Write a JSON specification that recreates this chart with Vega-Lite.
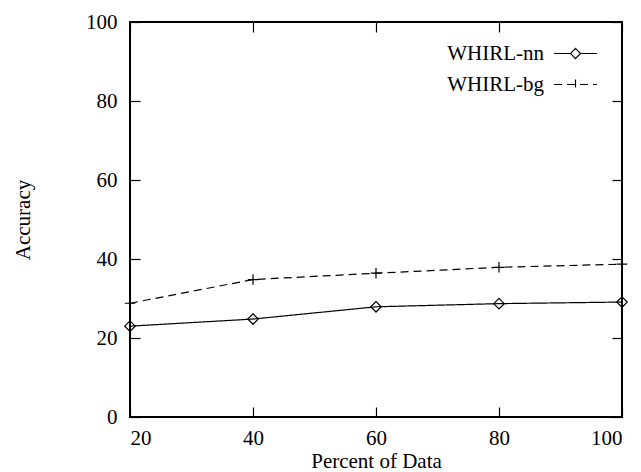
{
  "$schema": "https://vega.github.io/schema/vega-lite/v6.json",
  "width": 492,
  "height": 395,
  "autosize": {"type": "none"},
  "padding": {"left": 130, "top": 22, "right": 19, "bottom": 55},
  "background": "white",
  "config": {
    "font": "Liberation Serif",
    "view": {"stroke": "black", "strokeWidth": 2},
    "axis": {
      "domain": false,
      "grid": false,
      "tickColor": "black",
      "tickWidth": 1.2,
      "tickSize": -10,
      "labelFont": "Liberation Serif",
      "labelFontSize": 21,
      "labelColor": "black",
      "titleFont": "Liberation Serif",
      "titleFontSize": 21,
      "titleFontWeight": "normal",
      "titleColor": "black"
    }
  },
  "data": {
    "values": [
      {"pct": 20, "acc": 23.0, "series": "WHIRL-nn"},
      {"pct": 40, "acc": 24.8, "series": "WHIRL-nn"},
      {"pct": 60, "acc": 27.9, "series": "WHIRL-nn"},
      {"pct": 80, "acc": 28.7, "series": "WHIRL-nn"},
      {"pct": 100, "acc": 29.1, "series": "WHIRL-nn"},
      {"pct": 20, "acc": 28.8, "series": "WHIRL-bg"},
      {"pct": 40, "acc": 34.8, "series": "WHIRL-bg"},
      {"pct": 60, "acc": 36.4, "series": "WHIRL-bg"},
      {"pct": 80, "acc": 37.9, "series": "WHIRL-bg"},
      {"pct": 100, "acc": 38.7, "series": "WHIRL-bg"}
    ]
  },
  "layer": [
    {
      "mark": {"type": "line", "color": "black", "strokeWidth": 1.2},
      "encoding": {
        "x": {
          "field": "pct", "type": "quantitative",
          "scale": {"domain": [20, 100], "nice": false, "zero": false},
          "axis": {"orient": "bottom", "values": [20, 40, 60, 80, 100], "title": "Percent of Data", "labelPadding": 20, "titleY": 44, "titleBaseline": "middle"}
        },
        "y": {
          "field": "acc", "type": "quantitative",
          "scale": {"domain": [0, 100], "nice": false},
          "axis": {"orient": "left", "values": [0, 20, 40, 60, 80, 100], "title": "Accuracy", "labelPadding": 23, "titleX": -107, "titleAngle": -90, "titleBaseline": "middle"}
        },
        "strokeDash": {
          "field": "series", "type": "nominal",
          "scale": {"domain": ["WHIRL-nn", "WHIRL-bg"], "range": [[1, 0], [8, 5]]},
          "legend": {
            "orient": "none",
            "legendX": 434,
            "legendY": 20,
            "title": null,
            "padding": 0,
            "labelFont": "Liberation Serif",
            "labelFontSize": 21,
            "labelColor": "black",
            "labelAlign": "right",
            "labelOffset": -43,
            "symbolSize": 441,
            "symbolStrokeColor": "black",
            "symbolStrokeWidth": 1.2,
            "symbolFillColor": "transparent",
            "rowPadding": 9,
            "encode": {
              "symbols": {
                "update": {
                  "shape": {"signal": "datum.value === 'WHIRL-nn' ? 'M-2.05,0H-0.48M0.48,0H2.05M0,-0.48L0.48,0L0,0.48L-0.48,0Z' : 'M-2.05,0H2.05M0,-0.48V0.48'"}
                }
              }
            }
          }
        }
      }
    },
    {
      "transform": [{"filter": "datum.series === 'WHIRL-nn'"}],
      "mark": {"type": "point", "shape": "M0,-1L1,0L0,1L-1,0Z", "filled": false, "color": "black", "strokeWidth": 1.2, "size": 110, "opacity": 1},
      "encoding": {
        "x": {
          "field": "pct", "type": "quantitative",
          "axis": {"orient": "top", "values": [20, 40, 60, 80, 100], "labels": false, "title": null}
        },
        "y": {
          "field": "acc", "type": "quantitative",
          "axis": {"orient": "right", "values": [0, 20, 40, 60, 80, 100], "labels": false, "title": null}
        }
      }
    },
    {
      "transform": [{"filter": "datum.series === 'WHIRL-bg'"}],
      "mark": {"type": "point", "shape": "M-1,0H1M0,-1V1", "filled": false, "color": "black", "strokeWidth": 1.2, "size": 110, "opacity": 1},
      "encoding": {
        "x": {"field": "pct", "type": "quantitative", "axis": null},
        "y": {"field": "acc", "type": "quantitative", "axis": null}
      }
    }
  ]
}
